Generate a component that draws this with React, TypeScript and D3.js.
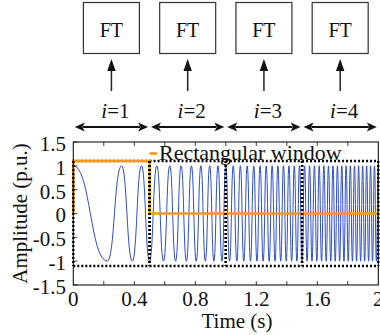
import React from "react";
import * as d3 from "d3";

// Chirp extrema: [time (s), amplitude (p.u.)]
const chirpExtrema: [number, number][] = [
  [0, 1], [0.2236, -1], [0.3162, 1], [0.3873, -1], [0.4472, 1], [0.5, -1],
  [0.5477, 1], [0.5916, -1], [0.6325, 1], [0.6708, -1], [0.7071, 1],
  [0.7416, -1], [0.7746, 1], [0.8062, -1], [0.8367, 1], [0.866, -1],
  [0.8944, 1], [0.922, -1], [0.9487, 1], [0.9747, -1], [1.0, 1],
  [1.0247, -1], [1.0488, 1], [1.0724, -1], [1.0954, 1], [1.118, -1],
  [1.1402, 1], [1.1619, -1], [1.1832, 1], [1.2042, -1], [1.2247, 1],
  [1.245, -1], [1.2649, 1], [1.2845, -1], [1.3038, 1], [1.3229, -1],
  [1.3416, 1], [1.3601, -1], [1.3784, 1], [1.3964, -1], [1.4142, 1],
  [1.4318, -1], [1.4491, 1], [1.4663, -1], [1.4832, 1], [1.5, -1],
  [1.5166, 1], [1.533, -1], [1.5492, 1], [1.5652, -1], [1.5811, 1],
  [1.5969, -1], [1.6125, 1], [1.6279, -1], [1.6432, 1], [1.6583, -1],
  [1.6733, 1], [1.6882, -1], [1.7029, 1], [1.7176, -1], [1.7321, 1],
  [1.7464, -1], [1.7607, 1], [1.7748, -1], [1.7889, 1], [1.8028, -1],
  [1.8166, 1], [1.8303, -1], [1.8439, 1], [1.8574, -1], [1.8708, 1],
  [1.8841, -1], [1.8974, 1], [1.9105, -1], [1.9235, 1], [1.9365, -1],
  [1.9494, 1], [1.9621, -1], [1.9748, 1], [1.9875, -1], [2.0, 1],
];

// Rectangular window (orange)
const rectWindow: [number, number][] = [
  [0, 0], [0, 1.1], [0.5, 1.1], [0.5, 0], [2, 0],
];

// Segments (windows) i = 1..4
const windowStarts = [0, 0.5, 1.0, 1.5];
const windowEnds = [0.5, 1.0, 1.5, 2.0];
const windowLabels = ["1", "2", "3", "4"];
const windowAmp = 1.1;

const xTicks = [0, 0.4, 0.8, 1.2, 1.6, 2];
const xTickLabels = ["0", "0.4", "0.8", "1.2", "1.6", "2"];
const xMinorTicks = [0.2, 0.4, 0.6, 0.8, 1.0, 1.2, 1.4, 1.6, 1.8];
const yTicks = [-1.5, -1, -0.5, 0, 0.5, 1, 1.5];
const yTickLabels = ["-1.5", "-1", "-0.5", "0", "0.5", "1", "1.5"];

const FONT = "'Liberation Serif', 'DejaVu Serif', serif";

export default function App() {
  const W = 380, H = 335;
  const x = d3.scaleLinear().domain([0, 2]).range([73.3, 378.3]);
  const y = d3.scaleLinear().domain([-1.5, 1.5]).range([285, 142]);

  const chirpPath = d3
    .line<[number, number]>()
    .x((d) => x(d[0]))
    .y((d) => y(d[1]))
    .curve(d3.curveBumpX)(chirpExtrema) as string;

  const rectPath = d3
    .line<[number, number]>()
    .x((d) => x(d[0]))
    .y((d) => y(d[1]))(rectWindow) as string;

  const dot = { stroke: "#000", strokeWidth: 2.4, strokeDasharray: "2,2", fill: "none" };
  const ts: React.CSSProperties = { fontFamily: FONT };

  const boxW = 56, boxTop = 2.5, boxH = 51;
  const arrowTip = 59, arrowHeadBase = 70, arrowBottom = 91;
  const dblY = 127;

  return (
    <svg
      width={W}
      height={H}
      style={{ position: "absolute", left: 0, top: 0, background: "#fff", fontFamily: FONT }}
    >
      <rect x={0} y={0} width={W} height={H} fill="#fff" />

      {/* Top: FT boxes, up arrows, labels, double arrows */}
      {windowStarts.map((s, i) => {
        const cx = x((s + windowEnds[i]) / 2);
        const xl = x(s) + 1.5;
        const xr = x(windowEnds[i]) - 1.5;
        const ah = 10, aw = 4.5;
        return (
          <g key={"top" + i}>
            <rect x={cx - boxW / 2} y={boxTop} width={boxW} height={boxH} fill="#fff" stroke="#333" strokeWidth={1.2} />
            <text x={cx} y={36.5} fontSize={20} textAnchor="middle" fill="#111" style={ts}>FT</text>
            <line x1={cx} x2={cx} y1={arrowBottom} y2={arrowHeadBase} stroke="#222" strokeWidth={1.5} />
            <path d={`M${cx},${arrowTip} L${cx - 4.2},${arrowHeadBase + 1} L${cx + 4.2},${arrowHeadBase + 1} Z`} fill="#111" />
            <text x={cx + 4} y={118} fontSize={21} textAnchor="middle" fill="#111" style={ts}>
              <tspan fontStyle="italic">i</tspan>={windowLabels[i]}
            </text>
            <line x1={xl + ah - 2} x2={xr - ah + 2} y1={dblY} y2={dblY} stroke="#111" strokeWidth={1.8} />
            <path d={`M${xl},${dblY} L${xl + ah},${dblY - aw} L${xl + ah - 2.5},${dblY} L${xl + ah},${dblY + aw} Z`} fill="#111" />
            <path d={`M${xr},${dblY} L${xr - ah},${dblY - aw} L${xr - ah + 2.5},${dblY} L${xr - ah},${dblY + aw} Z`} fill="#111" />
          </g>
        );
      })}

      {/* Chirp signal */}
      <path d={chirpPath} fill="none" stroke="#2f4fc8" strokeWidth={1} />

      {/* Window horizontal dotted lines */}
      {windowStarts.map((s, i) => (
        <g key={"wh" + i}>
          <line x1={x(s)} x2={x(windowEnds[i])} y1={y(windowAmp)} y2={y(windowAmp)} {...dot} />
          <line x1={x(s)} x2={x(windowEnds[i])} y1={y(-windowAmp)} y2={y(-windowAmp)} {...dot} />
        </g>
      ))}

      {/* Rectangular window */}
      <path d={rectPath} fill="none" stroke="#f39a1e" strokeWidth={2.6} />

      {/* Window vertical dotted lines */}
      {windowStarts.map((s, i) => (
        <g key={"wv" + i}>
          <line x1={x(s)} x2={x(s)} y1={y(windowAmp)} y2={y(-windowAmp)} {...dot} />
          <line x1={x(windowEnds[i])} x2={x(windowEnds[i])} y1={y(windowAmp)} y2={y(-windowAmp)} {...dot} />
        </g>
      ))}

      {/* Axes frame */}
      <rect x={x(0)} y={y(1.5)} width={x(2) - x(0)} height={y(-1.5) - y(1.5)} fill="none" stroke="#111" strokeWidth={1.1} />
      {xMinorTicks.map((t) => (
        <g key={"xt" + t}>
          <line x1={x(t)} x2={x(t)} y1={y(-1.5)} y2={y(-1.5) - 4} stroke="#111" strokeWidth={0.8} />
          <line x1={x(t)} x2={x(t)} y1={y(1.5)} y2={y(1.5) + 4} stroke="#111" strokeWidth={0.8} />
        </g>
      ))}
      {yTicks.map((t) => (
        <line key={"yt" + t} x1={x(0)} x2={x(0) + 4} y1={y(t)} y2={y(t)} stroke="#111" strokeWidth={0.8} />
      ))}

      {/* Tick labels */}
      {xTicks.map((t, i) => (
        <text key={"xl" + t} x={x(t)} y={306} fontSize={21} textAnchor="middle" fill="#111" style={ts}>
          {xTickLabels[i]}
        </text>
      ))}
      {yTicks.map((t, i) => (
        <text key={"yl" + t} x={66} y={y(t) + 1.5} dy="0.35em" fontSize={21} textAnchor="end" fill="#111" style={ts}>
          {yTickLabels[i]}
        </text>
      ))}

      {/* Axis titles */}
      <text x={237} y={328} fontSize={21} textAnchor="middle" fill="#111" style={ts}>Time (s)</text>
      <text transform={`translate(27,${y(0)}) rotate(-90)`} fontSize={21} textAnchor="middle" fill="#111" style={ts}>
        Amplitude (p.u.)
      </text>

      {/* Legend */}
      <line x1={149.5} x2={157} y1={153.5} y2={153.5} stroke="#f39a1e" strokeWidth={2.6} />
      <text x={159} y={160} fontSize={22} fill="#111" style={ts}>Rectangular window</text>
    </svg>
  );
}
